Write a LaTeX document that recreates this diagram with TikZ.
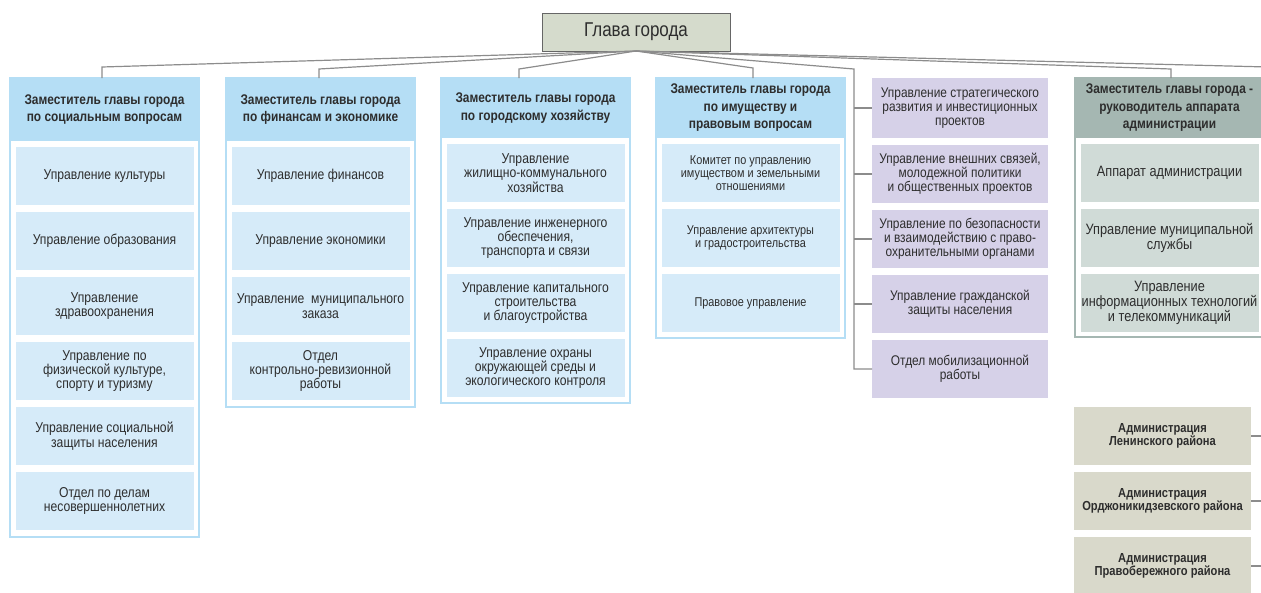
\documentclass[tikz,border=0pt]{standalone}
\usepackage{fontspec}
\setmainfont{Liberation Sans}[FakeStretch=0.85]
\usetikzlibrary{positioning}
\definecolor{deputyblue}{RGB}{181,222,245}
\definecolor{unitblue}{RGB}{214,235,249}
\definecolor{lilac}{RGB}{214,209,232}
\definecolor{staffgreen}{RGB}{165,183,178}
\definecolor{unitgreen}{RGB}{208,219,215}
\definecolor{headgray}{RGB}{213,219,204}
\definecolor{districtgray}{RGB}{217,217,203}
\definecolor{ink}{RGB}{45,45,45}
\definecolor{wire}{RGB}{140,140,140}

\begin{document}
\begin{tikzpicture}[x=1pt,y=-1pt,
        every node/.style={text=ink,align=center,inner sep=0pt,outer sep=0pt},
        chief/.style={fill=headgray,draw=black!60,line width=1pt,minimum width=188pt,minimum height=38pt,font=\fontsize{20}{22}\selectfont},
        deputy/.style={fill=deputyblue,anchor=north west,minimum width=189pt,minimum height=60pt,font=\bfseries\fontsize{14}{17.5}\selectfont},
        unit/.style={fill=unitblue,minimum width=178pt,minimum height=58pt,font=\fontsize{14.3}{14.3}\selectfont},
        smallunit/.style={unit,font=\fontsize{12.8}{12.8}\selectfont},
        staffunit/.style={unit,fill=unitgreen,font=\fontsize{15}{14.8}\selectfont},
        office/.style={fill=lilac,minimum width=176pt,minimum height=58pt,font=\fontsize{14}{14}\selectfont},
        district/.style={fill=districtgray,minimum width=177pt,minimum height=58pt,font=\bfseries\fontsize{13.1}{13.5}\selectfont},
        frame/.style={draw=#1,line width=2pt},
        wire/.style={draw=wire,line width=1.2pt}
    ]
    \useasboundingbox (0,0) rectangle (1261,592);

    \node[chief] (head) at (636,32) {Глава города};

    % social
    \node[deputy,minimum height=63pt] (h1) at (10,78) {Заместитель главы города\\по социальным вопросам};
    \node[unit] (s1) [below=6pt of h1] {Управление культуры};
    \node[unit] (s2) [below=7pt of s1] {Управление образования};
    \node[unit] (s3) [below=7pt of s2] {Управление\\здравоохранения};
    \node[unit] (s4) [below=7pt of s3] {Управление по\\физической культуре,\\спорту и туризму};
    \node[unit] (s5) [below=7pt of s4] {Управление социальной\\защиты населения};
    \node[unit] (s6) [below=7pt of s5] {Отдел по делам\\несовершеннолетних};
    \draw[frame=deputyblue] (h1.north west) rectangle ([yshift=-7pt]h1.east |- s6.south);

    % finance
    \node[deputy,minimum height=63pt] (h2) at (226,78) {Заместитель главы города\\по финансам и экономике};
    \node[unit] (f1) [below=6pt of h2] {Управление финансов};
    \node[unit] (f2) [below=7pt of f1] {Управление экономики};
    \node[unit] (f3) [below=7pt of f2] {Управление\ \ муниципального\\заказа};
    \node[unit] (f4) [below=7pt of f3] {Отдел\\контрольно-ревизионной\\работы};
    \draw[frame=deputyblue] (h2.north west) rectangle ([yshift=-7pt]h2.east |- f4.south);

    % city economy
    \node[deputy] (h3) at (441,78) {Заместитель главы города\\по городскому хозяйству};
    \node[unit] (c1) [below=6pt of h3] {Управление\\жилищно-коммунального\\хозяйства};
    \node[unit] (c2) [below=7pt of c1] {Управление инженерного\\обеспечения,\\транспорта и связи};
    \node[unit] (c3) [below=7pt of c2] {Управление капитального\\строительства\\и благоустройства};
    \node[unit] (c4) [below=7pt of c3] {Управление охраны\\окружающей среды и\\экологического контроля};
    \draw[frame=deputyblue] (h3.north west) rectangle ([yshift=-6pt]h3.east |- c4.south);

    % property
    \node[deputy] (h4) at (656,78) {Заместитель главы города\\по имуществу и\\правовым вопросам};
    \node[smallunit] (m1) [below=6pt of h4] {Комитет по управлению\\имуществом и земельными\\отношениями};
    \node[smallunit] (m2) [below=7pt of m1] {Управление архитектуры\\и градостроительства};
    \node[smallunit] (m3) [below=7pt of m2] {Правовое управление};
    \draw[frame=deputyblue] (h4.north west) rectangle ([yshift=-6pt]h4.east |- m3.south);

    % directly under the head
    \node[office,anchor=north west,minimum height=60pt] (p1) at (872,78) {Управление стратегического\\развития и инвестиционных\\проектов};
    \node[office] (p2) [below=7pt of p1] {Управление внешних связей,\\молодежной политики\\и общественных проектов};
    \node[office] (p3) [below=7pt of p2] {Управление по безопасности\\и взаимодействию с право-\\охранительными органами};
    \node[office] (p4) [below=7pt of p3] {Управление гражданской\\защиты населения};
    \node[office] (p5) [below=7pt of p4] {Отдел мобилизационной\\работы};

    % staff
    \node[deputy,fill=staffgreen] (h6) at (1075,78) {Заместитель главы города -\\руководитель аппарата\\администрации};
    \node[staffunit] (a1) [below=6pt of h6] {Аппарат администрации};
    \node[staffunit] (a2) [below=7pt of a1] {Управление муниципальной\\службы};
    \node[staffunit] (a3) [below=7pt of a2] {Управление\\информационных технологий\\и телекоммуникаций};
    \draw[frame=staffgreen] (h6.north west) rectangle ([yshift=-5pt]h6.east |- a3.south);

    % districts
    \node[district,anchor=north west] (d1) at (1074,407) {Администрация\\Ленинского района};
    \node[district] (d2) [below=7pt of d1] {Администрация\\Орджоникидзевского района};
    \node[district] (d3) [below=7pt of d2] {Администрация\\Правобережного района};

    \coordinate (k1) at (102,67);
    \coordinate (k2) at (319,69);
    \coordinate (k3) at (519,69);
    \coordinate (k4) at (753,68);
    \coordinate (pv) at (854,69);
    \coordinate (k6) at (1171,69);
    \coordinate (dv) at (1268,67);

    \foreach \k/\h in {k1/h1,k2/h2,k3/h3,k4/h4,k6/h6}
        \draw[wire] (head.south) -- (\k) -- (\k |- \h.north);
    \draw[wire] (head.south) -- (pv) -- (pv |- p5.west) -- (p5.west);
    \foreach \i in {1,...,4}
        \draw[wire] (pv |- p\i.west) -- (p\i.west);
    \draw[wire] (head.south) -- (dv) -- (dv |- d3.east);
    \foreach \i in {1,2,3}
        \draw[wire] (dv |- d\i.east) -- (d\i.east);
\end{tikzpicture}
\end{document}
